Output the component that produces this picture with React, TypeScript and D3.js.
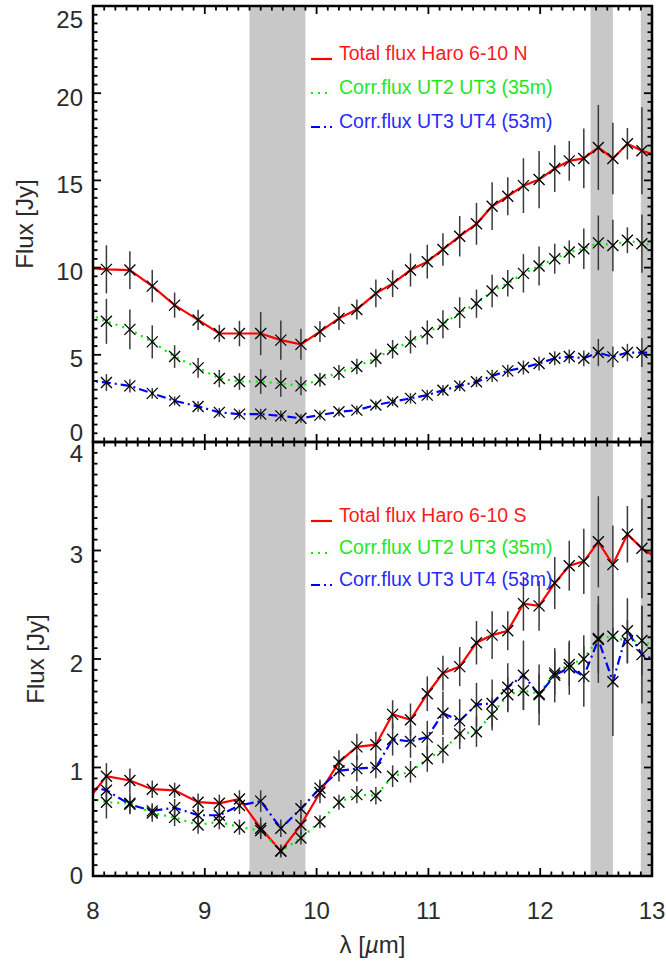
import React from 'react';
import * as d3 from 'd3';

// ---------- data ----------
const wavelength = [7.91, 8.12, 8.33, 8.53, 8.73, 8.94, 9.13, 9.31, 9.5, 9.68, 9.86, 10.03, 10.2, 10.36, 10.53, 10.68, 10.84, 10.99, 11.13, 11.28, 11.43, 11.57, 11.71, 11.85, 11.99, 12.13, 12.26, 12.39, 12.52, 12.65, 12.78, 12.91, 13.06];

const northTotal = [10.0, 9.9, 9.86, 8.94, 7.85, 7.0, 6.22, 6.22, 6.22, 5.84, 5.6, 6.33, 7.09, 7.6, 8.52, 9.08, 9.86, 10.34, 11.04, 11.8, 12.51, 13.52, 14.09, 14.7, 15.05, 15.68, 16.12, 16.26, 16.89, 16.26, 17.1, 16.7, 16.4];
const northTotalErr = [0, 1.38, 1.08, 0.93, 0.72, 0.58, 0.5, 0.73, 1.24, 1.12, 0.89, 0.6, 0.67, 0.57, 0.8, 0.77, 0.95, 0.97, 0.93, 1.16, 1.2, 1.37, 1.09, 1.57, 1.64, 1.34, 1.14, 1.71, 2.44, 2.05, 0.9, 2.5, 0];
const northUT23 = [7.47, 6.92, 6.46, 5.74, 4.9, 4.25, 3.64, 3.47, 3.47, 3.36, 3.22, 3.57, 3.99, 4.33, 4.8, 5.32, 5.74, 6.28, 6.75, 7.42, 7.93, 8.66, 9.1, 9.67, 10.09, 10.51, 10.89, 11.08, 11.42, 11.27, 11.57, 11.37, 11.25];
const northUT23Err = [0, 1.29, 1.14, 0.95, 0.65, 0.57, 0.5, 0.48, 0.71, 0.76, 0.54, 0.4, 0.43, 0.45, 0.52, 0.53, 0.66, 0.69, 0.8, 0.88, 0.81, 0.93, 0.76, 1.1, 1.12, 0.86, 0.67, 1.16, 1.57, 1.48, 0.74, 1.67, 0];
const northUT34 = [3.55, 3.41, 3.22, 2.79, 2.36, 2.04, 1.7, 1.6, 1.6, 1.5, 1.36, 1.54, 1.73, 1.83, 2.12, 2.31, 2.5, 2.69, 2.97, 3.22, 3.45, 3.79, 4.08, 4.27, 4.5, 4.8, 4.9, 4.8, 5.13, 4.88, 5.13, 5.13, 5.1];
const northUT34Err = [0, 0.48, 0.38, 0.3, 0.25, 0.3, 0.25, 0.25, 0.3, 0.3, 0.25, 0.25, 0.25, 0.25, 0.25, 0.25, 0.3, 0.3, 0.3, 0.3, 0.3, 0.35, 0.35, 0.4, 0.4, 0.4, 0.4, 0.45, 0.78, 0.6, 0.5, 0.83, 0];

const southTotal = [0.64, 0.92, 0.88, 0.8, 0.79, 0.68, 0.67, 0.71, 0.44, 0.23, 0.47, 0.77, 1.05, 1.19, 1.21, 1.49, 1.44, 1.68, 1.87, 1.93, 2.15, 2.22, 2.26, 2.51, 2.49, 2.7, 2.86, 2.9, 3.08, 2.87, 3.15, 3.02, 2.92];
const southTotalErr = [0, 0.12, 0.11, 0.08, 0.07, 0.08, 0.08, 0.08, 0.1, 0.06, 0.09, 0.1, 0.11, 0.12, 0.12, 0.13, 0.15, 0.16, 0.16, 0.18, 0.2, 0.22, 0.18, 0.25, 0.23, 0.24, 0.23, 0.3, 0.42, 0.36, 0.26, 0.46, 0];
const southUT23 = [0.73, 0.68, 0.67, 0.58, 0.54, 0.47, 0.5, 0.45, 0.42, 0.23, 0.35, 0.5, 0.68, 0.75, 0.74, 0.92, 0.96, 1.08, 1.16, 1.31, 1.33, 1.49, 1.67, 1.71, 1.68, 1.87, 1.95, 2.0, 2.19, 2.21, 2.16, 2.17, 2.1];
const southUT23Err = [0, 0.15, 0.1, 0.08, 0.08, 0.08, 0.07, 0.07, 0.07, 0.05, 0.06, 0.06, 0.07, 0.08, 0.08, 0.1, 0.1, 0.12, 0.12, 0.14, 0.14, 0.15, 0.16, 0.18, 0.18, 0.2, 0.2, 0.22, 0.32, 0.3, 0.2, 0.32, 0];
const southUT34 = [0.84, 0.79, 0.66, 0.6, 0.63, 0.56, 0.56, 0.65, 0.69, 0.44, 0.62, 0.81, 0.97, 0.99, 1.0, 1.26, 1.24, 1.28, 1.5, 1.43, 1.58, 1.59, 1.74, 1.85, 1.67, 1.85, 1.92, 1.84, 2.18, 1.79, 2.26, 2.04, 1.98];
const southUT34Err = [0, 0.1, 0.08, 0.07, 0.08, 0.08, 0.07, 0.08, 0.1, 0.08, 0.08, 0.08, 0.1, 0.12, 0.1, 0.15, 0.15, 0.15, 0.2, 0.2, 0.2, 0.22, 0.22, 0.32, 0.28, 0.25, 0.25, 0.28, 0.4, 0.5, 0.3, 0.45, 0];

const bandStart = [9.4, 12.45, 12.9];
const bandEnd = [9.9, 12.65, 13.0];

const xTickValues = [8, 9, 10, 11, 12, 13];
const northYTicks = [0, 5, 10, 15, 20, 25];
const southYTicks = [0, 1, 2, 3, 4];

const northLegend = ['Total flux Haro 6-10 N', 'Corr.flux UT2 UT3 (35m)', 'Corr.flux UT3 UT4 (53m)'];
const southLegend = ['Total flux Haro 6-10 S', 'Corr.flux UT2 UT3 (35m)', 'Corr.flux UT3 UT4 (53m)'];

// ---------- layout / style ----------
const W = 666;
const H = 962;
const X0 = 93;
const X1 = 652;
const FONT = "'Liberation Sans', Arial, Helvetica, sans-serif";
const LINE_COLORS = ['#ff0000', '#00ee00', '#0000ff'];
const TEXT_COLORS = ['#ff1a1a', '#1ee81e', '#2a2aff'];
const DASHES = [undefined, '2,5', '9,4,2,4'];
const LABEL_COLOR = '#2b2b2b';

const xScale = d3.scaleLinear().domain([8, 13]).range([X0, X1]);

type Series = { values: number[]; err: number[] };

function Panel(props: {
  id: string;
  top: number;
  bottom: number;
  yMax: number;
  yTicks: number[];
  minorStep: number;
  series: Series[];
  legend: string[];
  legendY: number[];
  maxLabelDy: number;
  minLabelDy: number;
  titleX: number;
}) {
  const { id, top, bottom, yMax, yTicks, minorStep, series, legend, legendY, maxLabelDy, minLabelDy, titleX } = props;
  const y = d3.scaleLinear().domain([0, yMax]).range([bottom, top]);
  const line = d3
    .line<number>()
    .x((_, i) => xScale(wavelength[i]))
    .y((d) => y(d));

  const xMinor = d3.range(80, 131).map((v) => v / 10);
  const nY = Math.round(yMax / minorStep);
  const yMinor = d3.range(0, nY + 1).map((i) => +(i * minorStep).toFixed(4));
  const MAJ = 8;
  const MIN = 4.5;
  const yMajorSet = new Set(yTicks.map((t) => t.toFixed(3)));

  const marker = 5.5;

  return (
    <g>
      <defs>
        <clipPath id={`clip-${id}`}>
          <rect x={X0} y={top} width={X1 - X0} height={bottom - top} />
        </clipPath>
      </defs>
      {bandStart.map((s, i) => (
        <rect
          key={`band-${i}`}
          x={xScale(s)}
          y={top}
          width={xScale(bandEnd[i]) - xScale(s)}
          height={bottom - top}
          fill="#c8c8c8"
        />
      ))}
      <g clipPath={`url(#clip-${id})`}>
        {series.map((s, k) => (
          <path
            key={`line-${k}`}
            d={line(s.values) || ''}
            fill="none"
            stroke={LINE_COLORS[k]}
            strokeWidth={2.2}
            strokeDasharray={DASHES[k]}
          />
        ))}
        {series.map((s, k) =>
          s.values.map((v, i) =>
            s.err[i] > 0 ? (
              <line
                key={`err-${k}-${i}`}
                x1={xScale(wavelength[i])}
                x2={xScale(wavelength[i])}
                y1={y(v - s.err[i])}
                y2={y(v + s.err[i])}
                stroke="#3a3a3a"
                strokeWidth={1.5}
              />
            ) : null
          )
        )}
        {series.map((s, k) =>
          s.values.map((v, i) => {
            const cx = xScale(wavelength[i]);
            const cy = y(v);
            return (
              <path
                key={`mk-${k}-${i}`}
                d={`M${cx - marker},${cy - marker}L${cx + marker},${cy + marker}M${cx - marker},${cy + marker}L${cx + marker},${cy - marker}`}
                stroke="#000"
                strokeWidth={1.3}
                fill="none"
              />
            );
          })
        )}
      </g>
      {xMinor.map((t, i) => {
        const len = Math.abs(t - Math.round(t)) < 1e-6 ? MAJ : MIN;
        const xx = xScale(t);
        return (
          <g key={`xt-${i}`} stroke="#000" strokeWidth={1.8}>
            <line x1={xx} x2={xx} y1={bottom} y2={bottom - len} />
            <line x1={xx} x2={xx} y1={top} y2={top + len} />
          </g>
        );
      })}
      {yMinor.map((t, i) => {
        const len = yMajorSet.has(t.toFixed(3)) ? MAJ : MIN;
        const yy = y(t);
        return (
          <g key={`yt-${i}`} stroke="#000" strokeWidth={1.8}>
            <line x1={X0} x2={X0 + len} y1={yy} y2={yy} />
            <line x1={X1} x2={X1 - len} y1={yy} y2={yy} />
          </g>
        );
      })}
      <rect x={X0} y={top} width={X1 - X0} height={bottom - top} fill="none" stroke="#000" strokeWidth={2.5} />
      {yTicks.map((t, i) => {
        let dy = 4;
        if (i === yTicks.length - 1) dy = maxLabelDy;
        if (i === 0) dy = minLabelDy;
        return (
          <text
            key={`yl-${i}`}
            x={83}
            y={y(t) + dy + 8.6}
            textAnchor="end"
            fontFamily={FONT}
            fontSize={24}
            fill={LABEL_COLOR}
          >
            {t}
          </text>
        );
      })}
      <text
        transform={`translate(${titleX},${(top + bottom) / 2}) rotate(-90)`}
        textAnchor="middle"
        fontFamily={FONT}
        fontSize={24}
        fill={LABEL_COLOR}
      >
        Flux [Jy]
      </text>
      {legend.map((label, k) => (
        <g key={`lg-${k}`}>
          <line
            x1={311}
            x2={332}
            y1={legendY[k] - 1}
            y2={legendY[k] - 1}
            stroke={LINE_COLORS[k]}
            strokeWidth={2.2}
            strokeDasharray={DASHES[k]}
          />
          <text x={339} y={legendY[k]} fontFamily={FONT} fontSize={19.5} fill={TEXT_COLORS[k]}>
            {label}
          </text>
        </g>
      ))}
    </g>
  );
}

export default function App() {
  const north: Series[] = [
    { values: northTotal, err: northTotalErr },
    { values: northUT23, err: northUT23Err },
    { values: northUT34, err: northUT34Err },
  ];
  const south: Series[] = [
    { values: southTotal, err: southTotalErr },
    { values: southUT23, err: southUT23Err },
    { values: southUT34, err: southUT34Err },
  ];
  return (
    <svg
      width={W}
      height={H}
      viewBox={`0 0 ${W} ${H}`}
      style={{ position: 'absolute', left: 0, top: 0, background: '#fff' }}
    >
      <rect x={0} y={0} width={W} height={H} fill="#fff" />
      <Panel
        id="north"
        top={6}
        bottom={442}
        yMax={25}
        yTicks={northYTicks}
        minorStep={0.5}
        series={north}
        legend={northLegend}
        legendY={[60, 94, 128]}
        maxLabelDy={13}
        minLabelDy={-9.5}
        titleX={33}
      />
      <Panel
        id="south"
        top={442}
        bottom={876}
        yMax={4}
        yTicks={southYTicks}
        minorStep={0.1}
        series={south}
        legend={southLegend}
        legendY={[522, 554, 586]}
        maxLabelDy={11.5}
        minLabelDy={-1}
        titleX={44}
      />
      {xTickValues.map((t) => (
        <text
          key={`xl-${t}`}
          x={xScale(t)}
          y={919}
          textAnchor="middle"
          fontFamily={FONT}
          fontSize={24}
          fill={LABEL_COLOR}
        >
          {t}
        </text>
      ))}
      <text x={(X0 + X1) / 2} y={953} textAnchor="middle" fontFamily={FONT} fontSize={24} fill={LABEL_COLOR}>
        {'λ ['}
        <tspan fontStyle="italic">µ</tspan>
        {'m]'}
      </text>
    </svg>
  );
}
